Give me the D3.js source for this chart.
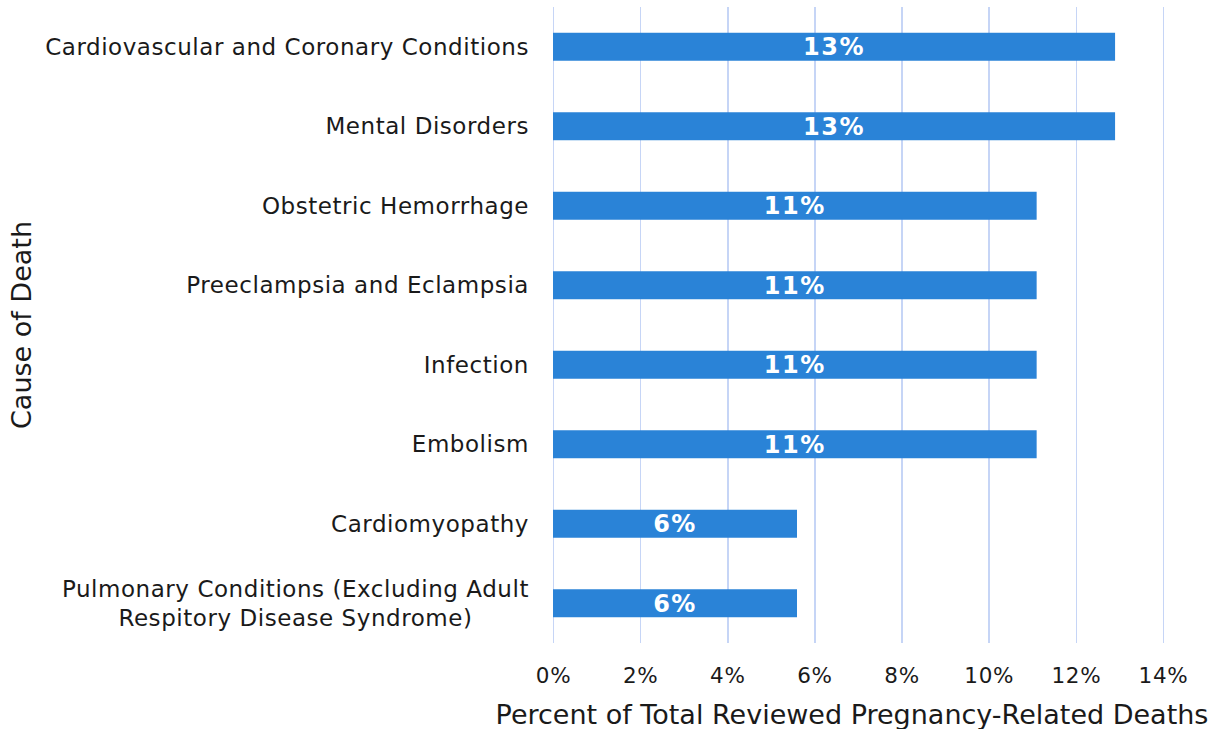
<html>
  <head>
    <meta charset="utf-8">
    <title>Cause of Death</title>
  </head>
  <style>
    body { margin: 0; background: #ffffff; }
    text { font-family: "DejaVu Sans", Verdana, sans-serif; }
    .grid line { stroke: #c6d5f6; stroke-width: 1.5px; shape-rendering: crispEdges; }
    .grid path { display: none; }
    .bar { fill: #2a83d7; }
    .val { fill: #ffffff; font-weight: bold; font-size: 24px; letter-spacing: 1.5px; }
    .cat { fill: #1a1a1a; font-size: 23px; letter-spacing: 0.55px; }
    .tick text { fill: #1a1a1a; font-size: 21.5px; letter-spacing: 0.7px; }
    .title { fill: #1a1a1a; font-size: 27px; }
  </style>
  <body>
    <div id="chart"></div>
    <script src="https://cdn.jsdelivr.net/npm/d3@7"></script>
    <script>

      // categories top to bottom, multi-line labels split by "|"
      var categories = [
        "Cardiovascular and Coronary Conditions",
        "Mental Disorders",
        "Obstetric Hemorrhage",
        "Preeclampsia and Eclampsia",
        "Infection",
        "Embolism",
        "Cardiomyopathy",
        "Pulmonary Conditions (Excluding Adult|Respitory Disease Syndrome)"
      ];
      var values      = [12.9, 12.9, 11.1, 11.1, 11.1, 11.1, 5.6, 5.6];
      var valueLabels = ["13%", "13%", "11%", "11%", "11%", "11%", "6%", "6%"];
      var xTicks      = [0, 2, 4, 6, 8, 10, 12, 14];

      var xaxis_lbl = "Percent of Total Reviewed Pregnancy-Related Deaths",
          yaxis_lbl = "Cause of Death";

      var outerWidth  = 1218,
          outerHeight = 729,
          margin      = { top: 7, right: 55, bottom: 86, left: 553 },
          width       = outerWidth - margin.left - margin.right,
          height      = outerHeight - margin.top - margin.bottom;

      var x = d3.scaleLinear()
                .domain([0, 14])
                .range([0, width]);

      var y = d3.scaleBand()
                .domain(categories)
                .range([0, height])
                .paddingInner(0.648)
                .paddingOuter(0.324);

      var svg = d3.select("#chart")
                  .append("svg")
                  .attr("width", outerWidth)
                  .attr("height", outerHeight)
                  .append("g")
                  .attr("transform", "translate(" + margin.left + "," + margin.top + ")");

      // vertical gridlines
      svg.append("g")
          .attr("class", "grid")
          .call(d3.axisBottom(x).tickValues(xTicks).tickSize(height).tickFormat(""));

      // x tick labels
      var gX = svg.append("g")
          .attr("transform", "translate(0," + height + ")")
          .call(d3.axisBottom(x).tickValues(xTicks).tickSize(0).tickPadding(25)
                  .tickFormat(function(d) { return d + "%"; }));
      gX.select(".domain").remove();

      // bars
      svg.selectAll(".bar")
          .data(categories)
          .enter().append("rect")
          .attr("class", "bar")
          .attr("x", x(0))
          .attr("y", function(d) { return y(d); })
          .attr("width", function(d, i) { return x(values[i]) - x(0); })
          .attr("height", y.bandwidth());

      svg.selectAll(".val")
          .data(categories)
          .enter().append("text")
          .attr("class", "val")
          .attr("x", function(d, i) { return x(values[i]) / 2; })
          .attr("y", function(d) { return y(d) + y.bandwidth() / 2; })
          .attr("dy", "0.36em")
          .attr("text-anchor", "middle")
          .text(function(d, i) { return valueLabels[i]; });

      // category labels, wrapped lines centred on each other
      var lineH = 29;
      var cats = svg.selectAll(".cat")
          .data(categories)
          .enter().append("text")
          .attr("class", "cat")
          .attr("text-anchor", "middle");

      cats.each(function(d) {
        var t = d3.select(this),
            lines = d.split("|"),
            cy = y(d) + y.bandwidth() / 2,
            y0 = cy - (lines.length - 1) * lineH / 2;
        lines.forEach(function(l, k) {
          t.append("tspan")
            .attr("y", y0 + k * lineH)
            .attr("dy", "0.35em")
            .text(l);
        });
        var w = d3.max(t.selectAll("tspan").nodes(), function(n) { return n.getComputedTextLength(); });
        t.selectAll("tspan").attr("x", -24 - w / 2);
      });

      // axis titles
      svg.append("text")
          .attr("class", "title")
          .attr("x", width / 2 - 6)
          .attr("y", height + 81)
          .attr("text-anchor", "middle")
          .text(xaxis_lbl);

      svg.append("text")
          .attr("class", "title")
          .attr("transform", "translate(" + (22 - margin.left) + "," + (height / 2) + ") rotate(-90)")
          .attr("dy", "0.35em")
          .attr("text-anchor", "middle")
          .text(yaxis_lbl);

    </script>
  </body>
</html>
